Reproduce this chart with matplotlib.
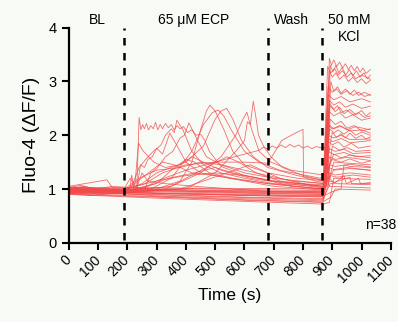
import matplotlib
matplotlib.use("Agg")
import matplotlib.pyplot as plt

plt.rcParams['font.family'] = ['Liberation Sans', 'DejaVu Sans']

# phase boundaries (s) and labels
phase_lines = [188, 680, 865]
phase_labels = ["BL", "65 \u03bcM ECP", "Wash", "50 mM", "KCl"]
phase_label_x = [96, 426, 761, 958, 958]
phase_label_y = [4.14, 4.14, 4.14, 4.14, 3.82]

# traces: (time s, dF/F)
# ECP responders
cell_01 = [(0, 0.99), (40, 1.03), (100, 0.97), (188, 0.96), (232, 0.98), (240, 2.33), (246, 2.1), (252, 2.2),
           (258, 2.12), (265, 2.22), (272, 2.1), (280, 2.18), (288, 2.12), (296, 2.24), (304, 2.1), (312, 2.2),
           (320, 2.12), (330, 2.22), (340, 2.14), (350, 2.2), (360, 2.1), (370, 2.18), (380, 2.12), (392, 2.16),
           (405, 2.05), (420, 2.1), (435, 2.0), (450, 2.02), (465, 1.9), (480, 1.7), (520, 1.42), (600, 1.25),
           (680, 1.16), (780, 1.1), (870, 1.08), (885, 1.6), (900, 2.05), (915, 1.96), (930, 2.03), (945, 1.95),
           (960, 2.04), (980, 1.94), (1000, 2.0), (1015, 1.93), (1030, 1.97)]
cell_02 = [(0, 0.96), (60, 1.0), (188, 0.94), (230, 0.96), (245, 1.45), (258, 1.4), (270, 1.55), (285, 1.6),
           (300, 1.75), (315, 1.82), (330, 2.0), (350, 2.12), (360, 2.05), (369, 2.28), (390, 2.1), (420, 1.7),
           (460, 1.45), (520, 1.3), (600, 1.2), (700, 1.1), (875, 1.05), (890, 2.6), (905, 2.48), (918, 2.55),
           (930, 2.42), (950, 2.47), (970, 2.38), (990, 2.42), (1010, 2.33), (1030, 2.36)]
cell_03 = [(0, 1.02), (188, 0.99), (260, 1.0), (280, 1.3), (300, 1.38), (330, 1.6), (355, 1.7), (380, 1.95),
           (395, 2.0), (410, 2.23), (440, 1.9), (470, 1.6), (520, 1.45), (600, 1.35), (680, 1.25), (760, 1.15),
           (880, 1.1), (895, 3.0), (905, 2.82), (918, 2.9), (930, 2.78), (945, 2.86), (960, 2.76), (975, 2.84),
           (990, 2.74), (1010, 2.8), (1030, 2.74)]
cell_04 = [(0, 0.97), (188, 0.96), (300, 1.0), (380, 1.15), (420, 1.5), (450, 2.1), (470, 2.45), (482, 2.56),
           (500, 2.45), (530, 2.1), (560, 1.7), (600, 1.45), (680, 1.3), (780, 1.2), (880, 1.15), (893, 3.3),
           (902, 3.18), (912, 3.3), (922, 3.16), (934, 3.26), (946, 3.12), (958, 3.22), (970, 3.1), (982, 3.2),
           (995, 3.08), (1008, 3.16), (1020, 3.05), (1030, 3.12)]
cell_05 = [(0, 1.0), (188, 0.98), (250, 1.1), (300, 1.3), (400, 1.5), (460, 1.8), (500, 2.3), (520, 2.45),
           (539, 2.5), (560, 2.3), (590, 1.9), (630, 1.6), (680, 1.4), (780, 1.25), (880, 1.15), (892, 2.55),
           (910, 2.44), (925, 2.52), (940, 2.4), (960, 2.48), (980, 2.38), (1000, 2.46), (1015, 2.36),
           (1030, 2.42)]
cell_06 = [(0, 0.95), (188, 0.93), (400, 1.0), (500, 1.3), (570, 1.7), (600, 1.9), (610, 2.25), (620, 2.2),
           (630, 2.63), (640, 2.3), (648, 2.0), (665, 1.8), (690, 1.6), (730, 1.4), (800, 1.25), (878, 1.15),
           (890, 3.43), (897, 3.3), (905, 3.4), (915, 3.28), (925, 3.36), (935, 3.25), (945, 3.33), (955, 3.22),
           (965, 3.3), (975, 3.2), (985, 3.28), (995, 3.17), (1005, 3.25), (1015, 3.15), (1030, 3.22)]
cell_07 = [(0, 0.98), (188, 0.97), (350, 1.05), (450, 1.3), (520, 1.6), (570, 2.0), (595, 2.3), (608, 2.43),
           (625, 2.1), (650, 1.7), (690, 1.5), (760, 1.35), (880, 1.25), (893, 2.3), (910, 2.2), (930, 2.26),
           (950, 2.13), (975, 2.18), (1000, 2.08), (1030, 2.12)]
cell_08 = [(0, 1.03), (188, 1.0), (215, 1.05), (240, 1.4), (270, 1.6), (300, 1.76), (320, 1.65), (345, 2.04),
           (370, 1.8), (400, 1.5), (450, 1.3), (550, 1.2), (680, 1.1), (870, 1.0), (884, 1.9), (900, 1.82),
           (920, 1.88), (940, 1.78), (965, 1.85), (990, 1.76), (1030, 1.8)]
cell_09 = [(0, 0.94), (188, 0.92), (280, 1.0), (350, 1.2), (420, 1.7), (460, 2.2), (490, 2.42), (510, 2.47),
           (530, 2.35), (560, 2.05), (600, 1.7), (650, 1.5), (720, 1.35), (860, 1.2), (885, 1.4), (900, 1.55),
           (930, 1.5), (960, 1.56), (1000, 1.48), (1030, 1.52)]
cell_10 = [(0, 0.97), (188, 0.95), (250, 1.0), (300, 1.15), (400, 1.35), (500, 1.5), (580, 1.62), (650, 1.72),
           (665, 1.78), (680, 1.74), (695, 1.8), (710, 1.76), (725, 1.82), (740, 1.77), (755, 1.83), (770, 1.78),
           (785, 1.82), (800, 1.76), (815, 1.8), (830, 1.75), (845, 1.79), (865, 1.76), (880, 1.78), (892, 2.12),
           (905, 2.04), (920, 2.1), (940, 2.02), (960, 2.1), (980, 2.0), (1000, 2.06), (1030, 2.0)]
cell_11 = [(0, 1.0), (188, 0.98), (260, 1.1), (320, 1.3), (400, 1.45), (500, 1.5), (600, 1.5), (680, 1.48),
           (727, 1.9), (760, 2.0), (800, 2.11), (802, 1.22), (840, 1.15), (875, 1.12), (890, 1.2), (905, 1.5),
           (1030, 1.45)]
cell_12 = [(0, 0.99), (188, 0.97), (225, 1.05), (238, 1.85), (255, 1.7), (290, 1.5), (330, 1.4), (380, 1.45),
           (420, 1.6), (460, 1.5), (520, 1.35), (620, 1.2), (750, 1.1), (870, 1.02), (885, 2.9), (900, 2.8),
           (915, 2.86), (930, 2.76), (950, 2.83), (970, 2.74), (990, 2.8), (1010, 2.72), (1030, 2.76)]
# weaker ECP responders
cell_13 = [(0, 1.01), (188, 0.99), (240, 1.2), (300, 1.35), (380, 1.4), (450, 1.5), (520, 1.45), (600, 1.3),
           (700, 1.2), (870, 1.1), (884, 2.2), (900, 2.12), (925, 2.18), (950, 2.1), (980, 2.16), (1030, 2.1)]
cell_14 = [(0, 0.96), (188, 0.95), (260, 1.25), (320, 1.5), (360, 1.45), (420, 1.3), (500, 1.25), (600, 1.15),
           (700, 1.05), (870, 0.98), (888, 1.3), (900, 1.8), (925, 1.72), (950, 1.77), (980, 1.7), (1030, 1.72)]
cell_15 = [(0, 0.98), (188, 0.96), (300, 1.1), (350, 1.35), (400, 1.55), (430, 1.5), (480, 1.3), (560, 1.2),
           (680, 1.1), (870, 1.0), (890, 3.2), (900, 3.08), (912, 3.16), (925, 3.04), (940, 3.12), (955, 3.0),
           (970, 3.08), (985, 2.98), (1000, 3.05), (1015, 2.96), (1030, 3.02)]
cell_16 = [(0, 0.93), (188, 0.92), (330, 1.0), (400, 1.2), (470, 1.4), (540, 1.6), (580, 1.5), (640, 1.3),
           (720, 1.15), (870, 1.05), (888, 2.45), (905, 2.36), (925, 2.42), (945, 2.32), (970, 2.38),
           (1000, 2.28), (1030, 2.32)]
cell_17 = [(0, 1.04), (140, 1.0), (188, 1.0), (210, 1.2), (225, 1.05), (300, 1.15), (400, 1.25), (500, 1.3),
           (600, 1.25), (700, 1.15), (870, 1.05), (885, 1.95), (900, 1.88), (930, 1.94), (960, 1.86),
           (1030, 1.9)]
cell_18 = [(0, 0.97), (188, 0.96), (270, 1.05), (340, 1.2), (430, 1.3), (500, 1.4), (560, 1.3), (650, 1.2),
           (760, 1.05), (870, 1.0), (890, 1.45), (905, 1.65), (930, 1.58), (960, 1.63), (1030, 1.58)]
cell_19 = [(0, 0.95), (188, 0.94), (380, 1.0), (460, 1.15), (540, 1.3), (620, 1.45), (660, 1.35), (720, 1.2),
           (800, 1.1), (870, 1.02), (890, 2.65), (905, 2.56), (925, 2.62), (945, 2.52), (970, 2.58),
           (1000, 2.5), (1030, 2.54)]
cell_20 = [(0, 1.0), (188, 0.98), (230, 1.0), (250, 1.3), (270, 1.15), (330, 1.1), (430, 1.05), (560, 1.0),
           (700, 0.95), (870, 0.93), (888, 1.2), (905, 1.35), (960, 1.38), (1030, 1.35)]
# ECP non-responders
cell_21 = [(0, 1.02), (40, 1.07), (90, 1.0), (150, 1.05), (300, 0.99), (600, 0.97), (868, 0.95), (884, 3.28),
           (895, 3.16), (908, 3.24), (920, 3.12), (935, 3.2), (950, 3.08), (965, 3.16), (980, 3.05),
           (1000, 3.12), (1030, 3.04)]
cell_22 = [(0, 0.98), (300, 0.95), (600, 0.92), (868, 0.9), (886, 2.75), (905, 2.66), (930, 2.72),
           (960, 2.62), (1000, 2.68), (1030, 2.62)]
cell_23 = [(0, 0.95), (70, 0.9), (130, 0.96), (300, 0.92), (600, 0.88), (868, 0.85), (887, 2.2), (905, 2.12),
           (930, 2.17), (960, 2.08), (1000, 2.1), (1030, 2.04)]
cell_24 = [(0, 1.05), (130, 1.17), (150, 1.02), (300, 1.02), (600, 0.99), (868, 0.97), (885, 2.0), (905, 1.95),
           (930, 2.0), (960, 1.92), (1030, 1.93)]
cell_25 = [(0, 0.93), (300, 0.89), (600, 0.84), (868, 0.8), (890, 1.75), (910, 1.7), (940, 1.74),
           (970, 1.66), (1030, 1.68)]
cell_26 = [(0, 1.0), (50, 1.05), (110, 0.98), (300, 0.97), (600, 0.94), (868, 0.92), (886, 1.7), (905, 1.64),
           (940, 1.68), (980, 1.6), (1030, 1.62)]
cell_27 = [(0, 0.97), (300, 0.93), (600, 0.9), (868, 0.88), (890, 1.6), (910, 1.55), (950, 1.59),
           (1030, 1.53)]
cell_28 = [(0, 0.92), (80, 0.88), (160, 0.93), (300, 0.87), (600, 0.82), (868, 0.78), (892, 1.45),
           (910, 1.42), (960, 1.46), (1030, 1.41)]
cell_29 = [(0, 1.03), (300, 1.02), (600, 1.01), (868, 1.0), (888, 1.4), (905, 1.36), (950, 1.4), (1030, 1.35)]
cell_30 = [(0, 0.96), (300, 0.92), (600, 0.88), (868, 0.86), (890, 1.3), (910, 1.26), (960, 1.3),
           (1030, 1.26)]
cell_31 = [(0, 0.9), (300, 0.85), (600, 0.79), (868, 0.75), (895, 1.25), (915, 1.22), (970, 1.26),
           (1030, 1.22)]
cell_32 = [(0, 0.99), (300, 0.97), (600, 0.95), (868, 0.93), (890, 1.15), (910, 1.12), (940, 1.25),
           (948, 1.1), (990, 1.2), (996, 1.1), (1030, 1.12)]
cell_33 = [(0, 0.94), (300, 0.9), (600, 0.85), (868, 0.82), (893, 1.1), (915, 1.1), (1030, 1.08)]
cell_34 = [(0, 1.01), (300, 0.97), (600, 0.93), (868, 0.9), (882, 2.5), (890, 1.2), (905, 1.12), (960, 1.22),
           (966, 1.1), (1030, 1.1)]
cell_35 = [(0, 0.97), (208, 1.0), (215, 1.26), (222, 1.0), (600, 0.96), (868, 0.95), (880, 2.2), (888, 1.05),
           (1030, 1.02)]
cell_36 = [(0, 0.95), (300, 0.92), (600, 0.89), (868, 0.87), (900, 0.95), (930, 1.0), (940, 1.45), (960, 1.42),
           (1030, 1.4)]
cell_37 = [(0, 0.9), (300, 0.83), (600, 0.77), (868, 0.72), (890, 0.75), (905, 1.2), (1030, 1.18)]
cell_38 = [(0, 0.92), (300, 0.86), (600, 0.8), (868, 0.76), (895, 0.85), (910, 1.0), (1030, 0.98)]

cells = [cell_01, cell_02, cell_03, cell_04, cell_05, cell_06, cell_07, cell_08, cell_09, cell_10,
         cell_11, cell_12, cell_13, cell_14, cell_15, cell_16, cell_17, cell_18, cell_19, cell_20,
         cell_21, cell_22, cell_23, cell_24, cell_25, cell_26, cell_27, cell_28, cell_29, cell_30,
         cell_31, cell_32, cell_33, cell_34, cell_35, cell_36, cell_37, cell_38]

x_ticks = list(range(0, 1101, 100))
y_ticks = [0, 1, 2, 3, 4]

bg = '#f8faf6'
fig = plt.figure(figsize=(3.98, 3.22), dpi=100, facecolor=bg)
ax = fig.add_axes([0.173, 0.246, 0.809, 0.668])
ax.set_facecolor(bg)

for cell in cells:
    t = [p[0] for p in cell]
    v = [p[1] for p in cell]
    ax.plot(t, v, color='#f04a4a', lw=0.6, alpha=0.8)

ax.vlines(phase_lines, 0.05, 4.0, colors='black', linestyles=(0, (3, 3)), lw=1.8, clip_on=False)

for lab, lx, ly in zip(phase_labels, phase_label_x, phase_label_y):
    ax.text(lx, ly, lab, ha='center', va='center', fontsize=10, clip_on=False)
ax.text(1120, 0.33, "n=%d" % len(cells), ha='right', va='center', fontsize=10, clip_on=False)

ax.set_xlim(0, 1100)
ax.set_ylim(0, 4)
ax.set_xticks(x_ticks)
ax.set_yticks(y_ticks)
ax.set_xticklabels([str(x) for x in x_ticks], rotation=45, ha='right', va='center',
                   rotation_mode='anchor', fontsize=10)
ax.set_yticklabels([str(y) for y in y_ticks], fontsize=10.5)
ax.tick_params(axis='x', direction='out', length=5, width=1.5, pad=6)
ax.tick_params(axis='y', direction='out', length=5, width=1.5, pad=4)
for side in ['top', 'right']:
    ax.spines[side].set_visible(False)
for side in ['left', 'bottom']:
    ax.spines[side].set_linewidth(1.6)
ax.set_xlabel("Time (s)", fontsize=12.5, labelpad=2)
ax.set_ylabel("Fluo-4 (\u0394F/F)", fontsize=14, labelpad=6)

fig.savefig("out.png", dpi=100, facecolor=bg)
